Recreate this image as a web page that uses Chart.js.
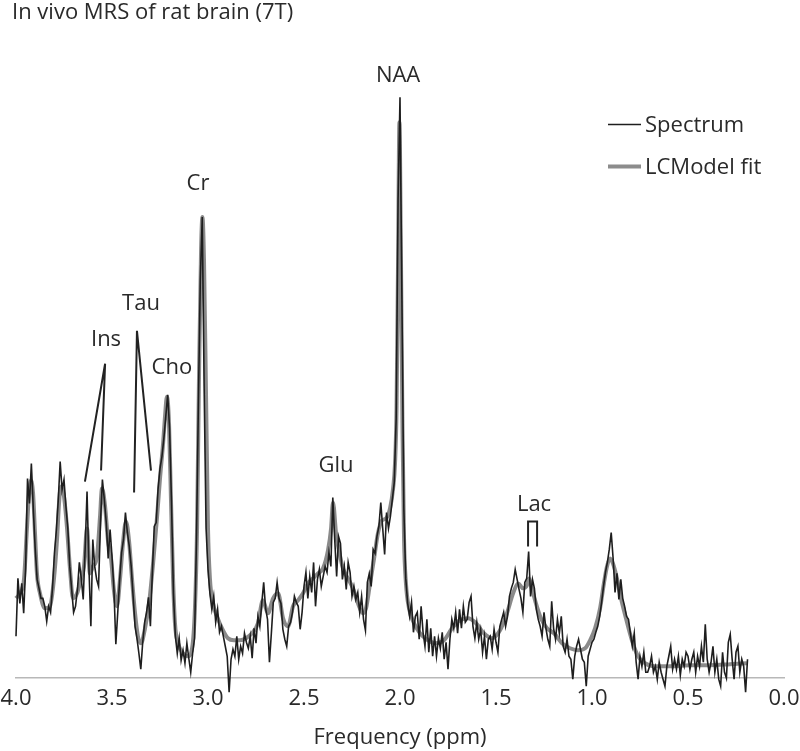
<!DOCTYPE html>
<html>
<head>
<meta charset="utf-8">
<title>In vivo MRS of rat brain (7T)</title>
<script src="https://cdn.jsdelivr.net/npm/chart.js@4.4.0/dist/chart.umd.min.js"></script>
<style>
  body { margin: 0; background: #fff; }
  #wrap { width: 800px; height: 751px; }
</style>
</head>
<body>
<div id="wrap"><canvas id="mrsChart" width="800" height="751"></canvas></div>
<script>

// Measured spectrum, sampled every 0.01 ppm from 4.00 ppm downwards (arbitrary units)
var specFirstPpm = 4.0;
var specStepPpm = 0.01;
var spectrum = [
    42, 100, 75, 95, 65, 110, 200, 175, 215, 170,      // 4.00 - 3.91
    130, 99, 90, 80, 80, 72, 57, 72, 66, 90,           // 3.90 - 3.81
    125, 148, 178, 217, 189, 199, 172, 150, 112, 89,   // 3.80 - 3.71
    66, 72, 89, 116, 100, 79, 129, 187, 110, 52,       // 3.70 - 3.61
    139, 112, 99, 92, 156, 199, 179, 156, 120, 149,    // 3.60 - 3.51
    122, 89, 34, 66, 99, 126, 139, 166, 146, 132,      // 3.50 - 3.41
    112, 82, 52, 40, 25, 9, 36, 56, 66, 81,            // 3.40 - 3.31
    52, 105, 152, 156, 190, 210, 222, 240, 262, 284,   // 3.30 - 3.21
    250, 175, 85, 42, 25, 40, 18, 28, 15, 35,          // 3.20 - 3.11
    20, 6, 25, 40, 140, 276, 400, 462, 290, 150,       // 3.10 - 3.01
    109, 85, 69, 82, 56, 69, 46, 52, 42, 32,           // 3.00 - 2.91
    22, -14, 19, 29, 22, 42, 19, 32, 25, 45,           // 2.90 - 2.81
    36, 30, 42, 20, 50, 35, 62, 52, 75, 96,            // 2.80 - 2.71
    70, 59, 16, 45, 76, 80, 96, 80, 75, 49,            // 2.70 - 2.61
    39, 32, 52, 56, 66, 82, 76, 72, 49, 66,            // 2.60 - 2.51
    92, 106, 80, 102, 86, 116, 72, 99, 109, 92,        // 2.50 - 2.41
    102, 112, 106, 126, 112, 181, 139, 102, 142, 135,  // 2.40 - 2.31
    99, 112, 89, 116, 106, 82, 92, 79, 86, 66,         // 2.30 - 2.21
    82, 59, 48, 96, 105, 92, 129, 125, 142, 152,       // 2.20 - 2.11
    176, 150, 124, 166, 150, 162, 179, 196, 260, 480,  // 2.10 - 2.01
    582, 380, 170, 100, 75, 62, 76, 46, 62, 66,        // 2.00 - 1.91
    39, 72, 46, 32, 59, 26, 50, 22, 42, 22,            // 1.90 - 1.81
    40, 30, 46, 19, 36, 9, 39, 59, 50, 66,             // 1.80 - 1.71
    45, 69, 50, 72, 56, 59, 76, 82, 52, 40,            // 1.70 - 1.61
    56, 39, 49, 26, 42, 19, 39, 42, 29, 49,            // 1.60 - 1.51
    36, 26, 52, 59, 66, 52, 62, 82, 90, 96,            // 1.50 - 1.41
    109, 99, 89, 80, 66, 96, 100, 127, 82, 99,         // 1.40 - 1.31
    90, 69, 59, 52, 42, 66, 50, 39, 32, 77,            // 1.30 - 1.21
    50, 39, 59, 45, 62, 32, 26, 39, 22, 19,            // 1.20 - 1.11
    -1, 22, 32, 39, 29, 19, 16, -8, 22, 29,            // 1.10 - 1.01
    36, 39, 46, 52, 62, 76, 92, 106, 116, 129,         // 1.00 - 0.91
    146, 120, 86, 105, 79, 99, 80, 72, 62, 59,         // 0.90 - 0.81
    45, 32, 45, 16, -1, 22, 12, 26, 6, 6,              // 0.80 - 0.71
    12, 22, 6, 12, -1, 16, 6, -1, -8, 12,              // 0.70 - 0.61
    22, 32, 9, 19, 9, 22, 3, 19, 12, 26,               // 0.60 - 0.51
    22, 9, 19, 26, 6, 22, 12, 32, 16, 54,              // 0.50 - 0.41
    19, 6, 16, 32, 6, 19, -1, -8, 26, 6,               // 0.40 - 0.31
    0, 36, 44, 19, -1, 26, 32, 6, 19, 12,              // 0.30 - 0.21
    -14, 19                                            // 0.20 - 0.19
];

var fitPpm = [
    4.000, 3.979, 3.958, 3.943, 3.932, 3.922, 3.911, 3.901, 3.891, 3.875,
    3.849, 3.823, 3.802, 3.786, 3.776, 3.766, 3.750, 3.734, 3.719, 3.703,
    3.682, 3.661, 3.646, 3.630, 3.615, 3.599, 3.578, 3.563, 3.552, 3.536,
    3.521, 3.505, 3.490, 3.474, 3.458, 3.443, 3.427, 3.411, 3.396, 3.380,
    3.365, 3.349, 3.328, 3.307, 3.286, 3.266, 3.250, 3.234, 3.224, 3.214,
    3.203, 3.193, 3.182, 3.172, 3.156, 3.130, 3.104, 3.083, 3.068, 3.057,
    3.047, 3.036, 3.029, 3.021, 3.010, 3.000, 2.990, 2.974, 2.953, 2.927,
    2.896, 2.865, 2.833, 2.802, 2.771, 2.740, 2.714, 2.688, 2.661, 2.635,
    2.609, 2.583, 2.557, 2.531, 2.505, 2.479, 2.453, 2.427, 2.401, 2.375,
    2.359, 2.349, 2.333, 2.318, 2.297, 2.271, 2.245, 2.219, 2.193, 2.177,
    2.156, 2.135, 2.115, 2.094, 2.073, 2.052, 2.036, 2.026, 2.018, 2.010,
    2.003, 1.995, 1.987, 1.979, 1.969, 1.953, 1.927, 1.896, 1.854, 1.813,
    1.771, 1.729, 1.688, 1.646, 1.604, 1.563, 1.521, 1.479, 1.443, 1.411,
    1.385, 1.359, 1.339, 1.328, 1.313, 1.292, 1.266, 1.234, 1.198, 1.156,
    1.115, 1.073, 1.036, 1.010, 0.984, 0.958, 0.938, 0.922, 0.906, 0.891,
    0.870, 0.849, 0.823, 0.792, 0.760, 0.724, 0.672, 0.594, 0.490, 0.385,
    0.281, 0.193
];
var fitLevel = [
    80, 85, 100, 150, 185, 198, 185, 145, 105, 85,
    70, 72, 100, 140, 175, 192, 182, 150, 110, 80,
    85, 100, 112, 150, 105, 112, 122, 160, 190, 172,
    138, 120, 88, 72, 100, 135, 157, 137, 100, 65,
    42, 35, 50, 75, 115, 160, 200, 235, 262, 282,
    255, 180, 100, 55, 35, 25, 22, 30, 70, 150,
    300, 430, 462, 420, 280, 150, 100, 75, 62, 50,
    40, 38, 38, 40, 45, 55, 78, 65, 80, 85,
    60, 52, 72, 78, 85, 95, 100, 105, 110, 128,
    150, 176, 145, 128, 110, 100, 90, 75, 65, 70,
    95, 120, 145, 158, 160, 170, 190, 215, 270, 420,
    557, 420, 250, 140, 95, 70, 55, 45, 38, 35,
    38, 50, 58, 60, 55, 45, 40, 48, 65, 85,
    95, 90, 93, 100, 90, 75, 60, 50, 45, 35,
    30, 28, 30, 38, 50, 70, 95, 112, 120, 115,
    100, 80, 60, 38, 22, 15, 12, 12, 13, 13,
    14, 15
];

// Peak labels (ppm, level) and the pointer lines drawn under them
var noteText  = ['NAA', 'Cr', 'Cho', 'Tau', 'Ins', 'Glu', 'Lac'];
var notePpm   = [2.010, 3.052, 3.188, 3.349, 3.531, 2.333, 1.302];
var noteLevel = [604, 495, 311, 375, 339, 213, 174];
var pointerPaths = [
    [[3.641, 197], [3.536, 315], [3.557, 208]],               // Ins
    [[3.385, 186], [3.370, 348], [3.297, 208]],               // Tau
    [[1.333, 132], [1.333, 157], [1.286, 157], [1.286, 132]]  // Lac doublet
];

var seriesNames = ['Spectrum', 'LCModel fit'];
var xTicks = [4.0, 3.5, 3.0, 2.5, 2.0, 1.5, 1.0, 0.5, 0.0];

var textColor = '#2a2a2a';
var specColor = '#1e1e1e';
var fitColor = 'rgba(125, 125, 125, 0.9)';

var specPoints = spectrum.map((v, i) => ({ x: +(specFirstPpm - i * specStepPpm).toFixed(2), y: v }));
var fitPoints = fitPpm.map((p, i) => ({ x: p, y: fitLevel[i] }));

// Draws the peak names, pointer lines and the little legend in the top right corner
const markup = {
    id: 'markup',
    afterDatasetsDraw(chart) {
        const ctx = chart.ctx;
        const xs = chart.scales.x;
        const ys = chart.scales.y;
        const area = chart.chartArea;

        ctx.save();
        ctx.font = '22px "Open Sans"';
        ctx.fillStyle = textColor;
        ctx.textAlign = 'center';
        ctx.textBaseline = 'middle';
        noteText.forEach((t, i) => {
            ctx.fillText(t, xs.getPixelForValue(notePpm[i]), ys.getPixelForValue(noteLevel[i]));
        });

        ctx.strokeStyle = '#222';
        ctx.lineWidth = 2;
        pointerPaths.forEach((path) => {
            ctx.beginPath();
            path.forEach((pt, j) => {
                const px = xs.getPixelForValue(pt[0]);
                const py = ys.getPixelForValue(pt[1]);
                if (j === 0) ctx.moveTo(px, py); else ctx.lineTo(px, py);
            });
            ctx.stroke();
        });

        // legend
        const lx = area.right - 176;
        const rows = [area.top + 90, area.top + 132];
        ctx.textAlign = 'left';
        ctx.lineCap = 'butt';
        seriesNames.forEach((name, i) => {
            ctx.beginPath();
            ctx.strokeStyle = i === 0 ? specColor : '#8c8c8c';
            ctx.lineWidth = i === 0 ? 1.5 : 4;
            ctx.moveTo(lx, rows[i]);
            ctx.lineTo(lx + 33, rows[i]);
            ctx.stroke();
            ctx.fillStyle = textColor;
            ctx.fillText(name, lx + 37, rows[i] + 1);
        });
        ctx.restore();
    }
};

var ctx = document.getElementById('mrsChart').getContext('2d');

var mrsChart = new Chart(ctx, {
    type: 'line',
    data: {
        datasets: [{
            label: seriesNames[0],
            data: specPoints,
            borderColor: specColor,
            borderWidth: 1.6,
            pointRadius: 0,
            tension: 0,
            clip: false,
            order: 0
        }, {
            label: seriesNames[1],
            data: fitPoints,
            borderColor: fitColor,
            borderWidth: 4,
            pointRadius: 0,
            cubicInterpolationMode: 'monotone',
            clip: false,
            order: 1
        }]
    },
    options: {
        responsive: false,
        animation: false,
        devicePixelRatio: 1,
        layout: { padding: { left: 12, right: 16, top: 0, bottom: 0 } },
        plugins: {
            legend: { display: false },
            tooltip: { enabled: false },
            title: {
                display: true,
                text: 'In vivo MRS of rat brain (7T)',
                align: 'start',
                color: textColor,
                font: { family: 'Open Sans', size: 22, weight: 'normal' },
                padding: { top: 0, bottom: 8 }
            }
        },
        scales: {
            x: {
                type: 'linear',
                reverse: true,
                min: 0,
                max: 4,
                afterBuildTicks: (axis) => { axis.ticks = xTicks.map(v => ({ value: v })); },
                // end labels may hang over the plot edges, the plot runs 16px from both sides
                afterFit: (axis) => { axis.paddingLeft = 16; axis.paddingRight = 16; },
                ticks: {
                    color: textColor,
                    padding: 7,
                    maxRotation: 0,
                    font: { family: 'Open Sans', size: 22 },
                    callback: (v) => Number(v).toFixed(1)
                },
                grid: { display: false, drawTicks: false },
                border: { display: true, color: '#b8b8b8', width: 1.5 },
                title: {
                    display: true,
                    text: 'Frequency (ppm)',
                    color: textColor,
                    font: { family: 'Open Sans', size: 22 },
                    padding: { top: 6, bottom: 0 }
                }
            },
            y: {
                display: false,
                min: 0,
                max: 645
            }
        }
    },
    plugins: [markup]
});

</script>
</body>
</html>
